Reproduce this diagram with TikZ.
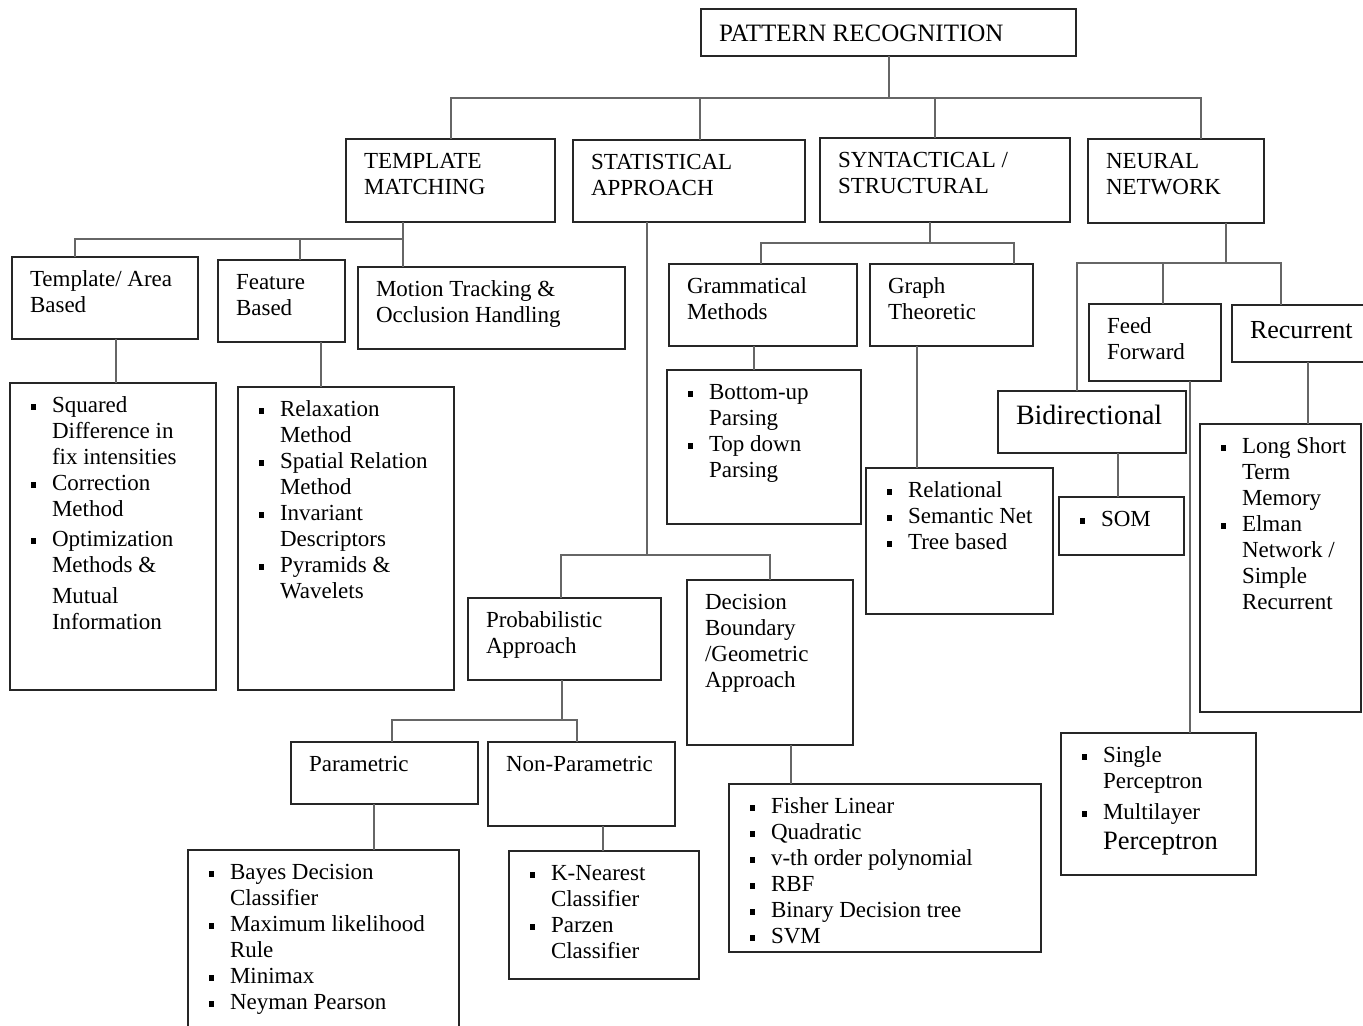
\documentclass[tikz,border=0pt]{standalone}
\usepackage{fontspec}
\setmainfont{Liberation Serif}

% box text: width and height of the whole box (px), then the text
\newcommand\cell[3]{\parbox[t][\dimexpr #2pt/2-11pt\relax][t]{\dimexpr #1pt/2-18pt\relax}{\raggedright\strut #3}}
\newcommand\lcell[3]{\parbox[t][\dimexpr #2pt/2-11pt\relax][t]{\dimexpr #1pt/2-18pt\relax}{#3}}
% one bulleted entry with a square bullet and hanging indent
\newcommand\itm[1]{\hangindent=12pt\hangafter=1\noindent\makebox[12pt][l]{\hspace{1.5pt}\rule[1.3pt]{2.6pt}{2.6pt}}\strut #1\par}

\tikzset{
  box/.style={draw=black!85, line width=1pt, anchor=north west, inner xsep=9pt, inner ysep=5.5pt,
              outer sep=0pt, font=\fontsize{11.5}{13}\selectfont},
  wire/.style={draw=black!60, line width=1pt}
}

\begin{document}
\begin{tikzpicture}[x=0.5pt, y=-0.5pt]
\useasboundingbox (0,0) rectangle (1363,1026);
\clip (0,0) rectangle (1363,1026);
\fill[white] (0,0) rectangle (1363,1026);

% ---------- boxes ----------
\node[box, font=\fontsize{12.5}{14}\selectfont] (pr) at (701,9) {\cell{375}{47}{\rule{0pt}{11pt}PATTERN RECOGNITION}};

\node[box] (tm)   at (346,139) {\cell{209}{83}{TEMPLATE\\MATCHING}};
\node[box] (stat) at (573,140) {\cell{232}{82}{STATISTICAL\\APPROACH}};
\node[box] (syn)  at (820,138) {\cell{250}{84}{SYNTACTICAL /\\STRUCTURAL}};
\node[box] (nn)   at (1088,139) {\cell{176}{84}{NEURAL\\NETWORK}};

\node[box] (tab) at (12,257)  {\cell{186}{82}{Template/ Area\\Based}};
\node[box] (fb)  at (218,260) {\cell{127}{82}{Feature\\Based}};
\node[box] (mt)  at (358,267) {\cell{267}{82}{Motion Tracking \&\\Occlusion Handling}};

\node[box] (l1) at (10,383) {\lcell{206}{307}{%
  \itm{Squared\\Difference in\\fix intensities}
  \itm{Correction\\Method}
  \vspace{2pt}
  \itm{Optimization\\Methods \&\\[2.5pt]Mutual\\Information}}};
\node[box] (l2) at (238,387) {\lcell{216}{303}{%
  \itm{Relaxation\\Method}
  \itm{Spatial Relation\\Method}
  \itm{Invariant\\Descriptors}
  \itm{Pyramids \&\\Wavelets}}};

\node[box] (gram)  at (669,264) {\cell{188}{82}{Grammatical\\Methods}};
\node[box] (graph) at (870,264) {\cell{163}{82}{Graph\\Theoretic}};
\node[box] (lg)  at (667,370) {\lcell{194}{154}{%
  \itm{Bottom-up\\Parsing}
  \itm{Top down\\Parsing}}};
\node[box] (lgr) at (866,468) {\lcell{187}{146}{%
  \itm{Relational}
  \itm{Semantic Net}
  \itm{Tree based}}};

\node[box] (ff)  at (1089,304) {\cell{132}{77}{Feed\\Forward}};
\node[box, font=\fontsize{13}{15}\selectfont] (rec) at (1232,305) {\lcell{150}{57}{\rule{0pt}{11pt}Recurrent}};
\node[box, font=\fontsize{14}{16}\selectfont] (bid) at (998,391) {\cell{188}{62}{Bidirectional}};
\node[box] (som)  at (1059,497) {\lcell{125}{58}{\itm{SOM}}};
\node[box] (lstm) at (1200,424) {\lcell{161}{288}{%
  \itm{\makebox[0pt][l]{Long Short}\\Term\\Memory}
  \itm{Elman\\Network /\\Simple\\Recurrent}}};
\node[box] (lper) at (1061,733) {\lcell{195}{142}{%
  \itm{Single\\Perceptron}
  \vspace{2.5pt}
  \itm{Multilayer\\[2pt]{\fontsize{13.25}{15}\selectfont Perceptron}}}};

\node[box] (prob) at (468,598) {\cell{193}{82}{Probabilistic\\Approach}};
\node[box] (dec)  at (687,580) {\cell{166}{165}{Decision\\Boundary\\/Geometric\\Approach}};
\node[box] (par)  at (291,742) {\cell{187}{62}{Parametric}};
\node[box] (npar) at (488,742) {\cell{187}{84}{Non-Parametric}};

\node[box] (lbay) at (188,850) {\lcell{271}{190}{%
  \itm{Bayes Decision\\Classifier}
  \itm{Maximum likelihood\\Rule}
  \itm{Minimax}
  \itm{Neyman Pearson}}};
\node[box] (lknn) at (509,851) {\lcell{190}{128}{%
  \itm{K-Nearest\\Classifier}
  \itm{Parzen\\Classifier}}};
\node[box] (lfis) at (729,784) {\lcell{312}{168}{%
  \itm{Fisher Linear}
  \itm{Quadratic}
  \itm{v-th order polynomial}
  \itm{RBF}
  \itm{Binary Decision tree}
  \itm{SVM}}};

% ---------- connectors ----------
% root to the four approaches
\coordinate (rS) at (700,98);
\coordinate (rY) at (935,98);
\coordinate (rN) at (1201,98);
\draw[wire] (pr.south) -- (pr.south |- rS);
\draw[wire] (tm.north) -- (tm.north |- rS) -- (rN) -- (rN |- nn.north);
\draw[wire] (rS) -- (rS |- stat.north);
\draw[wire] (rY) -- (rY |- syn.north);

% template matching
\coordinate (tA) at (75,239);
\coordinate (tF) at (300,239);
\coordinate (tM) at (403,239);
\draw[wire] (tM |- tm.south) -- (tM |- mt.north);
\draw[wire] (tA |- tab.north) -- (tA) -- (tM);
\draw[wire] (tF) -- (tF |- fb.north);
\coordinate (cA) at (116,0);
\coordinate (cF) at (321,0);
\draw[wire] (cA |- tab.south) -- (cA |- l1.north);
\draw[wire] (cF |- fb.south) -- (cF |- l2.north);

% statistical approach
\coordinate (sV) at (647,555);
\coordinate (sP) at (561,555);
\coordinate (sD) at (770,555);
\draw[wire] (sV |- stat.south) -- (sV);
\draw[wire] (sP |- prob.north) -- (sP) -- (sD) -- (sD |- dec.north);
\coordinate (pJ) at (562,720);
\coordinate (pL) at (392,720);
\coordinate (pR) at (577,720);
\draw[wire] (pJ |- prob.south) -- (pJ);
\draw[wire] (pL |- par.north) -- (pL) -- (pR) -- (pR |- npar.north);
\coordinate (cP) at (374,0);
\coordinate (cN) at (603,0);
\coordinate (cD) at (791,0);
\draw[wire] (cP |- par.south) -- (cP |- lbay.north);
\draw[wire] (cN |- npar.south) -- (cN |- lknn.north);
\draw[wire] (cD |- dec.south) -- (cD |- lfis.north);

% syntactical / structural
\coordinate (yJ) at (930,243);
\coordinate (yL) at (761,243);
\coordinate (yR) at (1014,243);
\draw[wire] (yJ |- syn.south) -- (yJ);
\draw[wire] (yL |- gram.north) -- (yL) -- (yR) -- (yR |- graph.north);
\coordinate (cG) at (754,0);
\coordinate (cT) at (917,0);
\draw[wire] (cG |- gram.south) -- (cG |- lg.north);
\draw[wire] (cT |- graph.south) -- (cT |- lgr.north);

% neural network
\coordinate (nJ) at (1226,263);
\coordinate (nB) at (1077,263);
\coordinate (nF) at (1163,263);
\coordinate (nR) at (1281,263);
\draw[wire] (nJ |- nn.south) -- (nJ);
\draw[wire] (nB |- bid.north) -- (nB) -- (nR) -- (nR |- rec.north);
\draw[wire] (nF) -- (nF |- ff.north);
\coordinate (cB) at (1118,0);
\coordinate (cW) at (1190,0);
\coordinate (cR) at (1308,0);
\draw[wire] (cB |- bid.south) -- (cB |- som.north);
\draw[wire] (cW |- ff.south) -- (cW |- lper.north);
\draw[wire] (cR |- rec.south) -- (cR |- lstm.north);
\end{tikzpicture}
\end{document}
